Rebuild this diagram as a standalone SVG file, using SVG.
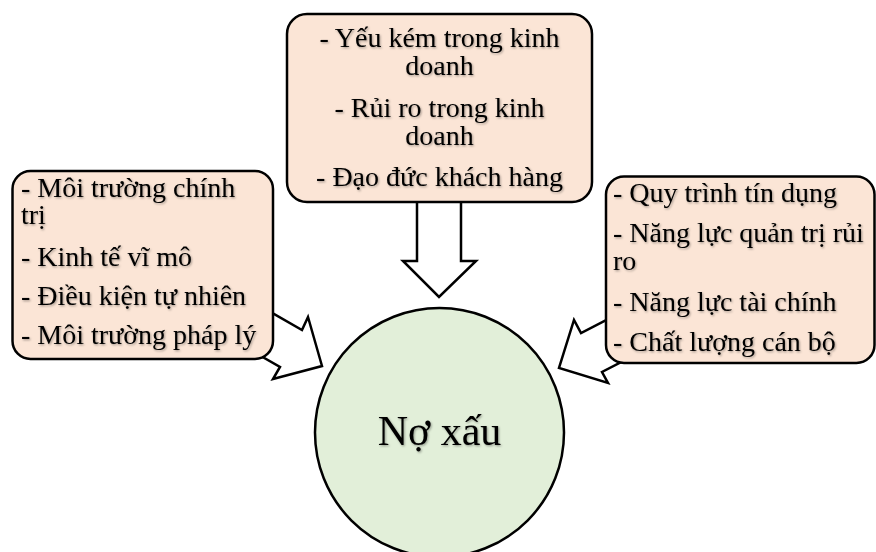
<svg xmlns="http://www.w3.org/2000/svg" width="876" height="552" viewBox="0 0 876 552">
  <style>
    .box { fill: #fbe5d6; stroke: #000; stroke-width: 2.5; }
    .arrow { fill: #fff; stroke: #000; stroke-width: 2.5; stroke-linejoin: miter; }
    .t { font-size: 28px; fill: #000; }
    .c { text-anchor: middle; }
  </style>
  <defs>
    <filter id="sh" x="-5%" y="-20%" width="110%" height="140%">
      <feDropShadow dx="1" dy="1.2" stdDeviation="0.8" flood-color="#000" flood-opacity="0.35"/>
    </filter>
  </defs>
  <rect width="876" height="552" fill="#fff"/>
  <g id="connectors">
    <polygon class="arrow" points="417,150 461,150 461,261 476,261 439,297 403,261 417,261"/>
    <polygon class="arrow" points="232.6,290.3 302,330 308,317 322,366 273,379 280,367 210.6,327.3"/>
    <polygon class="arrow" points="652,296.4 581,333 574,320 559,368 608,383 602,372 673,335.4"/>
  </g>
  <g id="top-box" font-family="'Liberation Serif', 'Times New Roman', serif">
    <rect class="box" x="287" y="14" width="305" height="188" rx="20"/>
    <g filter="url(#sh)">
      <text class="t c" x="439.5" y="47">- Yếu kém trong kinh</text>
      <text class="t c" x="439.5" y="75">doanh</text>
      <text class="t c" x="439.5" y="117">- Rủi ro trong kinh</text>
      <text class="t c" x="439.5" y="145">doanh</text>
      <text class="t c" x="439.5" y="186">- Đạo đức khách hàng</text>
    </g>
  </g>
  <g id="left-box" font-family="'Liberation Serif', 'Times New Roman', serif">
    <rect class="box" x="12.5" y="171" width="260.5" height="188" rx="18"/>
    <g filter="url(#sh)">
      <text class="t" x="21" y="197">- Môi trường chính</text>
      <text class="t" x="21" y="224">trị</text>
      <text class="t" x="21" y="266">- Kinh tế vĩ mô</text>
      <text class="t" x="21" y="305">- Điều kiện tự nhiên</text>
      <text class="t" x="21" y="344">- Môi trường pháp lý</text>
    </g>
  </g>
  <g id="right-box" font-family="'Liberation Serif', 'Times New Roman', serif">
    <rect class="box" x="606" y="176.5" width="268.5" height="186.5" rx="18"/>
    <g filter="url(#sh)">
      <text class="t" x="613" y="202">- Quy trình tín dụng</text>
      <text class="t" x="613" y="242">- Năng lực quản trị rủi</text>
      <text class="t" x="613" y="270">ro</text>
      <text class="t" x="613" y="311">- Năng lực tài chính</text>
      <text class="t" x="613" y="351">- Chất lượng cán bộ</text>
    </g>
  </g>
  <g id="center-node">
    <circle cx="439.5" cy="432.5" r="124.5" fill="#e2efd9" stroke="#000" stroke-width="2.5"/>
    <text x="439.5" y="445" text-anchor="middle" font-family="'Liberation Serif', 'Times New Roman', serif" font-size="42" filter="url(#sh)">Nợ xấu</text>
  </g>
</svg>
